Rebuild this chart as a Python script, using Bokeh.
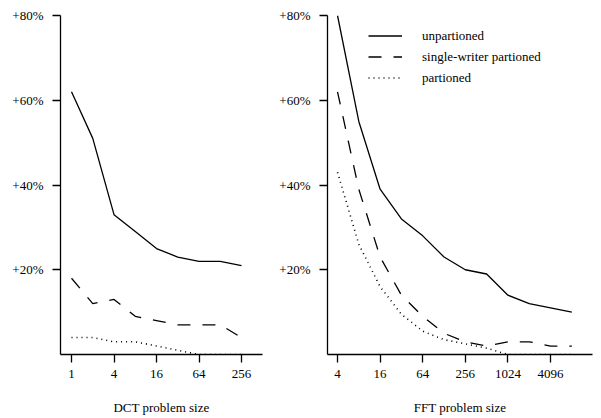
from bokeh.plotting import figure
from bokeh.layouts import row
from bokeh.models import Range1d, FixedTicker, Legend, LegendItem
from bokeh.embed import file_html
from bokeh.resources import INLINE

# ---- data ----
dct_sizes = [1, 2, 4, 8, 16, 32, 64, 128, 256]
dct_unpartioned = [62, 51, 33, 29, 25, 23, 22, 22, 21]
dct_single_writer = [18, 12, 13, 9, 8, 7, 7, 7, 4]
dct_partioned = [4, 4, 3, 3, 2, 1, 0, 0, 0]

fft_sizes = [4, 8, 16, 32, 64, 128, 256, 512, 1024, 2048, 4096, 8192]
fft_unpartioned = [80, 55, 39, 32, 28, 23, 20, 19, 14, 12, 11, 10]
fft_single_writer = [62, 39, 23, 14, 9, 5, 3, 2, 3, 3, 2, 2]
fft_partioned = [43, 26, 16, 9.5, 5.5, 3.5, 2.5, 1.5, 0, 0, 0, 0]

y_ticks = [20, 40, 60, 80]
y_tick_labels = ["+20%", "+40%", "+60%", "+80%"]
dct_ticks = [1, 4, 16, 64, 256]
dct_tick_labels = ["1", "4", "16", "64", "256"]
fft_ticks = [4, 16, 64, 256, 1024, 4096]
fft_tick_labels = ["4", "16", "64", "256", "1024", "4096"]
series_names = ["unpartioned", "single-writer partioned", "partioned"]

FONT = "Liberation Serif"
INK = "#000000"
DASHES = ["solid", "13 12", "1 4"]
WIDTHS = [1.3, 1.3, 1.6]


def make_fig(width, border_left, border_right, x_lo, x_hi, ticks, tick_labels, xlabel):
    p = figure(width=width, height=418, x_axis_type="log",
               x_range=Range1d(2 ** x_lo, 2 ** x_hi), y_range=Range1d(0, 80),
               output_backend="svg", toolbar_location=None,
               min_border_left=border_left, min_border_right=border_right,
               min_border_top=15, min_border_bottom=64)
    p.grid.visible = False
    p.outline_line_color = None
    p.background_fill_color = "white"
    p.border_fill_color = "white"

    p.xaxis.ticker = FixedTicker(ticks=ticks)
    p.xaxis.major_label_overrides = {t: l for t, l in zip(ticks, tick_labels)}
    p.yaxis.ticker = FixedTicker(ticks=y_ticks)
    p.yaxis.major_label_overrides = {t: l for t, l in zip(y_ticks, y_tick_labels)}

    for ax in (p.xaxis, p.yaxis):
        ax.axis_line_color = INK
        ax.axis_line_width = 1.3
        ax.major_tick_line_color = INK
        ax.major_tick_line_width = 1.3
        ax.major_tick_in = 0
        ax.major_tick_out = 8
        ax.minor_tick_line_color = None
        ax.major_label_text_font = FONT
        ax.major_label_text_font_size = "13px"
        ax.major_label_text_color = INK
        ax.major_label_standoff = 7
    p.yaxis.major_label_standoff = 9
    p.xaxis.axis_label = xlabel
    p.xaxis.axis_label_text_font = FONT
    p.xaxis.axis_label_text_font_size = "13px"
    p.xaxis.axis_label_text_font_style = "normal"
    p.xaxis.axis_label_text_color = INK
    p.xaxis.axis_label_standoff = 19
    return p


p1 = make_fig(275, 60, 13, -0.518, 8.988, dct_ticks, dct_tick_labels, "DCT problem size")
p2 = make_fig(325, 52, 8, 1.53, 13.97, fft_ticks, fft_tick_labels, "FFT problem size")

for ys, dash, w in zip([dct_unpartioned, dct_single_writer, dct_partioned], DASHES, WIDTHS):
    p1.line(dct_sizes, ys, line_color=INK, line_width=w, line_dash=dash)

renderers = []
for ys, dash, w in zip([fft_unpartioned, fft_single_writer, fft_partioned], DASHES, WIDTHS):
    r = p2.line(fft_sizes, ys, line_color=INK, line_width=w, line_dash=dash)
    renderers.append(r)

legend = Legend(items=[LegendItem(label=n, renderers=[r]) for n, r in zip(series_names, renderers)],
                location=(41, 266), orientation="vertical",
                label_text_font=FONT, label_text_font_size="13px", label_text_color=INK,
                glyph_width=34, glyph_height=21, label_height=21, label_standoff=20,
                spacing=0, padding=0, margin=0,
                border_line_color=None, background_fill_alpha=0)
p2.add_layout(legend)

layout = row(p1, p2)
open("out.html", "w").write(file_html(layout, INLINE))
